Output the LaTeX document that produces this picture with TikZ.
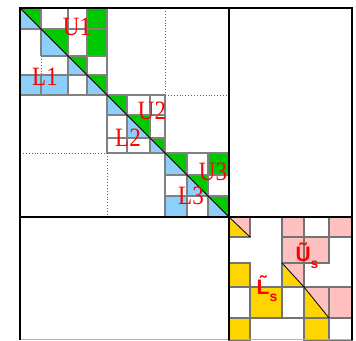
\documentclass[tikz,border=0pt]{standalone}
\usepackage{fontspec}
\setmainfont{Liberation Serif}
\setsansfont{Liberation Sans}
\definecolor{kgreenc}{HTML}{00C800}
\definecolor{kbluec}{HTML}{8CCFFA}
\definecolor{kgoldc}{HTML}{FFD400}
\definecolor{kpinkc}{HTML}{FFC0C0}
\tikzset{
  kgreen/.style={fill=kgreenc}, kblue/.style={fill=kbluec},
  kgold/.style={fill=kgoldc}, kpink/.style={fill=kpinkc},
  kgrid/.style={draw=black!50, line width=1.1pt},
  kcell/.style={draw=black!55, line width=1.1pt},
  kdots/.style={draw=black!60, line width=0.9pt, dotted},
  kdiag/.style={draw=black, line width=0.8pt},
  kframe/.style={draw=black, line width=2.2pt},
  klabel/.style={text=red, font=\fontsize{23}{23}\selectfont, yscale=1.15, inner sep=0pt},
  ksym/.style={text=red, font=\sffamily\bfseries\fontsize{21}{21}\selectfont, inner sep=0pt},
}
\begin{document}
\begin{tikzpicture}[x=1pt, y=-1pt]
  \useasboundingbox (0,0) rectangle (356,340);
  % upper left part: L1/U1, L2/U2, L3/U3
  \fill[kblue] (20,8) -- (20,29) -- (41,29) -- cycle (41,29) -- (41,56) -- (68,56) -- cycle
    (68,56) -- (68,75) -- (87,75) -- cycle (87,75) -- (87,95) -- (107,95) -- cycle
    (107,95) -- (107,115) -- (127,115) -- cycle (127,115) -- (127,138) -- (150,138) -- cycle
    (150,138) -- (150,153) -- (165,153) -- cycle (165,153) -- (165,175) -- (187,175) -- cycle
    (187,175) -- (187,196) -- (208,196) -- cycle (208,196) -- (208,217) -- (229,217) -- cycle;
  \fill[kgreen] (20,8) -- (41,8) -- (41,29) -- cycle (41,29) -- (68,29) -- (68,56) -- cycle
    (68,56) -- (87,56) -- (87,75) -- cycle (87,75) -- (107,75) -- (107,95) -- cycle
    (107,95) -- (127,95) -- (127,115) -- cycle (127,115) -- (150,115) -- (150,138) -- cycle
    (150,138) -- (165,138) -- (165,153) -- cycle (165,153) -- (187,153) -- (187,175) -- cycle
    (187,175) -- (208,175) -- (208,196) -- cycle (208,196) -- (229,196) -- (229,217) -- cycle;
  \fill[kgreen] (87,8) rectangle (107,56);
  \fill[kgreen] (208,153) rectangle (229,175);
  \fill[kblue] (20,75) rectangle (68,95);
  \fill[kblue] (165,196) rectangle (187,217);
  % grids of the three blocks
  \draw[kgrid] (41,8) -- (41,56) (41,75) -- (41,95) (68,8) -- (68,95) (87,8) -- (87,95)
    (20,29) -- (107,29) (41,56) -- (107,56) (20,75) -- (107,75);
  \draw[kdots] (41,56) -- (41,75);
  \draw[kgrid] (127,95) -- (127,153) (150,95) -- (150,153) (107,115) -- (165,115) (107,138) -- (165,138);
  \draw[kgrid] (187,153) -- (187,217) (208,153) -- (208,217) (165,175) -- (229,175) (165,196) -- (229,196);
  \draw[kgrid] (20,8) rectangle (107,95);
  \draw[kgrid] (107,95) rectangle (165,153);
  \draw[kgrid] (165,153) rectangle (229,217);
  \draw[kdots] (165,8) -- (165,95) -- (229,95);
  \draw[kdots] (20,153) -- (107,153) -- (107,217);
  \draw[kdiag] (20,8) -- (229,217);
  % lower right part: Schur complement
  \fill[kgold] (229,217) -- (229,237) -- (250,237) -- cycle (282,263) -- (282,287) -- (304,287) -- cycle
    (304,287) -- (304,318) -- (329,318) -- cycle;
  \fill[kpink] (229,217) -- (250,217) -- (250,237) -- cycle (282,263) -- (304,263) -- (304,287) -- cycle
    (304,287) -- (329,287) -- (329,318) -- cycle;
  \draw[kcell, kpink] (282,217) rectangle (304,237);
  \draw[kcell, kpink] (282,237) rectangle (304,263);
  \draw[kcell, kpink] (304,237) rectangle (329,263);
  \draw[kcell, kpink] (329,217) rectangle (352,237);
  \draw[kcell, kpink] (329,287) rectangle (352,318);
  \draw[kcell, kgold] (229,263) rectangle (250,287);
  \draw[kcell, kgold] (250,287) rectangle (282,318);
  \draw[kcell, kgold] (229,318) rectangle (250,340);
  \draw[kcell, kgold] (304,318) rectangle (329,340);
  \draw[kcell] (229,217) rectangle (250,237);
  \draw[kcell] (304,217) rectangle (329,237);
  \draw[kcell] (282,263) rectangle (304,287);
  \draw[kcell] (229,287) rectangle (250,318);
  \draw[kcell] (282,287) rectangle (304,318);
  \draw[kcell] (304,287) rectangle (329,318);
  \draw[kcell] (329,318) rectangle (352,340);
  \draw[kdiag] (229,217) -- (250,237) (282,263) -- (304,287) -- (329,318);
  % frame
  \draw[black!30, line width=1pt] (20,339.5) -- (352,339.5);
  \draw[kframe] (20,340) -- (20,8) -- (352,8) -- (352,340);
  \draw[kframe] (229,8) -- (229,340);
  \draw[kframe] (20,217) -- (352,217);
  % labels
  \node[klabel] (u1) at (77,27) {U1};
  \node[klabel] (l1) at (45,77) {L1};
  \node[klabel] (u2) at (152,111) {U2};
  \node[klabel] (l2) at (128,138) {L2};
  \node[klabel] (u3) at (213,172) {U3};
  \node[klabel] (l3) at (191,196) {L3};
  \node[ksym] (us) at (307,256) {\~{U}\raisebox{-0.35em}{\fontsize{14}{14}\selectfont s}};
  \node[ksym] (ls) at (267,289) {\~{L}\raisebox{-0.35em}{\fontsize{14}{14}\selectfont s}};
\end{tikzpicture}
\end{document}
